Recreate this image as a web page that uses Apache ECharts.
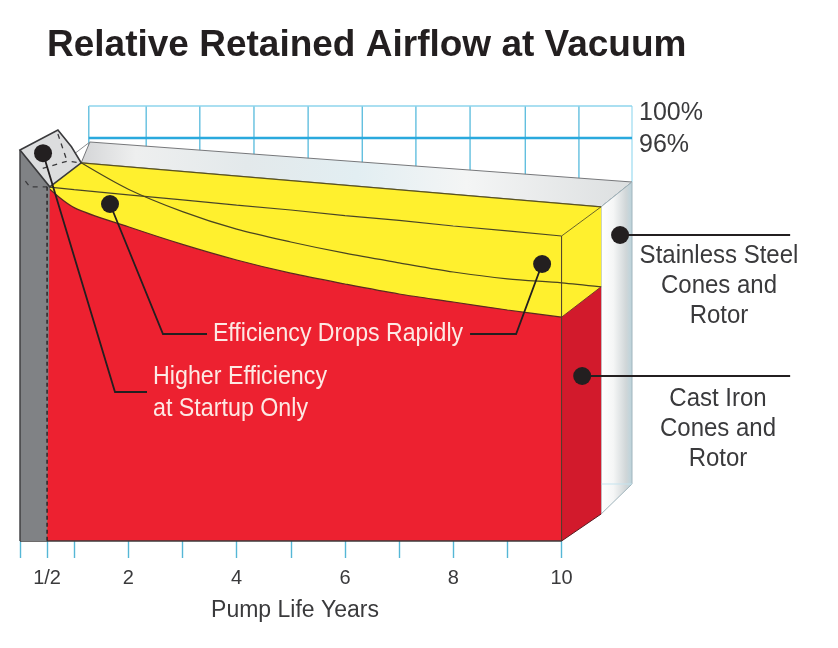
<!DOCTYPE html>
<html><head><meta charset="utf-8">
<style>html,body{margin:0;padding:0;background:#fff}#c{width:838px;height:648px}</style>
<script src="https://cdn.jsdelivr.net/npm/echarts@6/dist/echarts.min.js"></script>
</head><body><div id="c"></div>
<script>
// ---- Values: [pump life years, retained airflow %] ----
var titleText = 'Relative Retained Airflow at Vacuum';
var xAxisName = 'Pump Life Years';
var xTickValues = [0, 0.5, 1, 2, 3, 4, 5, 6, 7, 8, 9, 10];
var xLabelValues = [0.5, 2, 4, 6, 8, 10];
var yLabelValues = [96, 100];
var gridYears = [1.27, 2.33, 3.32, 4.32, 5.32, 6.32, 7.31, 8.31, 9.33, 10.32, 11.3];
var years = [0.5, 1, 2, 3, 4, 5, 6, 7, 8, 9, 10];
var castIronFront = [89.9, 87.3, 84.9, 82.7, 80.75, 79.1, 77.75, 76.5, 75.5, 74.5, 73.6];
var stainlessFront = [89.9, 89.55, 88.9, 88.26, 87.6, 87, 86.3, 85.7, 85, 84.4, 83.75];
var castIronBack = [[1.13, 92.9], [2, 89.6], [3, 86.8], [4, 84.6], [5, 83], [6, 81.6], [7, 80.4], [8, 79.25], [9, 78.4], [10, 77.9], [10.73, 77.4]];
var stainlessBack = [[1.13, 92.9], [10.73, 87.4]];
var yMin = 45.625, yMax = 100;
var roofPts = [[1.13, 92.9], [1.29, 95.5], [11.3, 90.5], [10.73, 87.4]];
var wallPts = [[10.73, 87.4], [11.3, 90.5], [11.3, 52.75], [10.73, 49]];
var yellowTopPts = [[0.5, 89.9], [1.13, 92.9], [10.73, 87.4], [10, 83.75]];
var yellowSidePts = [[10, 83.75], [10.73, 87.4], [10.73, 77.4], [10, 73.6]];
var redSidePts = [[10, 73.6], [10.73, 77.4], [10.73, 49], [10, yMin]];
var greyPts = [[0, 94.5], [0.55, 89.9], [0.5, yMin], [0, yMin]];
var boxPts = [[0, 94.5], [0.7, 97], [0.95, 94.9], [1.13, 92.9], [0.55, 89.9]];
var boxDash = [[[0.7, 96.5], [0.87, 93.1]], [[0.42, 92.2], [0.87, 93.1], [1.13, 92.9]], [[0.1, 90.6], [0.18, 89.9], [0.5, 89.9]]];
var roofLink = [[0.98, 93.9], [1.29, 95.5]];
var leaderLines = [
  [[0.425, 94.1], [1.754, 64.25], [2.345, 64.25]],
  [[1.662, 87.75], [2.64, 71.5], [3.453, 71.5]],
  [[9.64, 80.25], [9.16, 71.5], [8.31, 71.5]],
  [[11.08, 83.875], [14.22, 83.875]],
  [[10.38, 66.25], [14.22, 66.25]]
];
var dots = [[0.425, 94.1], [1.662, 87.75], [9.64, 80.25], [11.08, 83.875], [10.38, 66.25]];

// ---- Styles ----
var INK = '#231f20', TEXT = '#3a3a3c', RED = '#ed2130', YEL = '#fff02e', SANS = '"Liberation Sans",Arial,sans-serif';
function zip(xs, ys) { return xs.map(function (x, i) { return [x, ys[i]]; }); }
function poly(name, pts, style, z) {
  return { type: 'custom', name: name, coordinateSystem: 'cartesian2d', z: z, silent: true, data: pts,
    encode: { x: 0, y: 1 },
    renderItem: function (p, api) {
      if (p.dataIndex !== 0) return;
      return { type: 'polygon', shape: { points: pts.map(function (q) { return api.coord(q); }) }, style: style };
    } };
}
function polyline(name, pts, style, z) {
  return { type: 'custom', name: name, coordinateSystem: 'cartesian2d', z: z, silent: true, data: pts,
    encode: { x: 0, y: 1 },
    renderItem: function (p, api) {
      if (p.dataIndex !== 0) return;
      return { type: 'polyline', shape: { points: pts.map(function (q) { return api.coord(q); }) }, style: Object.assign({ fill: null }, style) };
    } };
}
function line(name, pts, color, width, z, extra) {
  return Object.assign({ type: 'line', name: name, data: pts, symbol: 'none', clip: false, silent: true, z: z,
    lineStyle: { color: color, width: width } }, extra || {});
}
var grad = function (stops, x2, y2) { return new echarts.graphic.LinearGradient(0, 0, x2, y2, stops); };
var series = [];
// blue scale
series.push({ type: 'custom', name: 'grid', coordinateSystem: 'cartesian2d', z: 1, silent: true, data: gridYears.map(function (y) { return [y]; }),
  encode: { x: 0 },
  renderItem: function (p, api) {
    var a = api.coord([api.value(0), yMax]), b = api.coord([api.value(0), 90.5]);
    return { type: 'line', shape: { x1: a[0], y1: a[1], x2: b[0], y2: b[1] }, style: { stroke: p.dataIndex === 10 ? '#a9e0f2' : '#62bfdf', lineWidth: 1.4 } };
  } });
series.push(line('100% line', [[1.27, 100], [11.3, 100]], '#8ed5ec', 1.6, 2));
series.push(line('96% line', [[1.27, 96], [11.3, 96]], '#2aa9dd', 2.6, 2));
// box walls
series.push(poly('Roof', roofPts, { fill: grad([{ offset: 0, color: '#d4d5d7' }, { offset: 0.1, color: '#eeefef' }, { offset: 0.3, color: '#e3e9eb' }, { offset: 0.5, color: '#e2eef2' }, { offset: 0.7, color: '#f4f5f5' }, { offset: 1, color: '#dcdfe0' }], 1, 0), stroke: '#77787b', lineWidth: 1 }, 3));
series.push(poly('Wall', wallPts, { fill: grad([{ offset: 0, color: '#ffffff' }, { offset: 0.4, color: '#f5f6f6' }, { offset: 0.8, color: '#d0d6d8' }, { offset: 1, color: '#b9d3dc' }], 1, 0), stroke: '#a0b4bc', lineWidth: 1 }, 3));
series.push(line('Wall floor', [[10.73, 52.75], [11.3, 52.75]], '#c5e3ee', 1, 4));
series.push(line('Roof link', roofLink, '#8a8c8e', 1, 4));
// stainless (yellow)
series.push(poly('Yellow top', yellowTopPts, { fill: YEL }, 5));
series.push(poly('Yellow side', yellowSidePts, { fill: YEL }, 5));
series.push(line('Stainless top edge', stainlessBack, '#5a5220', 1.2, 6));
series.push(line('Stainless Steel', zip(years, stainlessFront), '#4a4520', 1.2, 7, { areaStyle: { color: YEL, opacity: 1, origin: 'start' } }));
series.push(line('Cast Iron rear', castIronBack, '#4a4520', 1.2, 8, { smooth: 0.3 }));
// cast iron (red)
series.push(poly('Red side', redSidePts, { fill: '#d21a2c' }, 9));
series.push(line('Cast Iron', zip(years, castIronFront), '#5a2a20', 1.2, 10, { smooth: 0.3, areaStyle: { color: RED, opacity: 1, origin: 'start' } }));
series.push(line('Front corner', [[10, 83.75], [10, yMin]], '#4a3a2a', 1, 11));
series.push(line('Corner top', [[10, 83.75], [10.73, 87.4]], '#6a6420', 1, 11));
series.push(line('Side floor', [[10, yMin], [10.73, 49]], '#5a1a20', 1, 11));
series.push(line('Red side top', [[10, 73.6], [10.73, 77.4]], '#7a3a20', 1, 11));
series.push(line('Base', [[0, yMin], [10, yMin]], '#3d3a3a', 1.4, 11));
// left flap
series.push(poly('Grey', greyPts, { fill: '#808285' }, 12));
series.push(line('Grey edge', [[0, 94.5], [0, yMin]], '#3a3a3c', 1.4, 13));
series.push(poly('Box', boxPts, { fill: '#dcddde', stroke: '#3a3a3c', lineWidth: 1.6 }, 13));
boxDash.forEach(function (d, i) {
  series.push(line('Box dash ' + i, d, '#3a3a3c', 1.3, 14, { lineStyle: { color: '#3a3a3c', width: 1.3, type: [5, 5] } }));
});
series.push(line('Half year', [[0.5, 89.9], [0.5, yMin]], INK, 1.4, 14, { lineStyle: { color: INK, width: 1.4, type: [4, 3] } }));
// call-outs
leaderLines.forEach(function (l, i) { series.push(polyline('Leader ' + i, l, { stroke: INK, lineWidth: 1.8 }, 15)); });
series.push({ type: 'scatter', name: 'Dots', data: dots, symbolSize: 18, silent: true, z: 16, itemStyle: { color: INK, opacity: 1 } });

function note(text, x, y, color, align, lh, sx) {
  return { type: 'text', x: x, y: y, z: 100, scaleX: sx, style: { text: text, fill: color, font: '25px ' + SANS, align: align, verticalAlign: 'middle', lineHeight: lh } };
}
var chart = echarts.init(document.getElementById('c'), null, { renderer: 'canvas' });
chart.setOption({
  animation: false, backgroundColor: '#fff',
  title: { text: titleText, left: 47, top: 27, padding: 0, textStyle: { color: INK, fontFamily: SANS, fontWeight: 'bold', fontSize: 37 } },
  grid: { left: 20, right: 206, top: 106, bottom: 107 },
  xAxis: { type: 'value', min: 0, max: 11.3, splitLine: { show: false }, axisLine: { show: false },
    axisTick: { show: true, length: 17, customValues: xTickValues, lineStyle: { color: '#55b7d6', width: 1.4 } },
    axisLabel: { show: true, customValues: xLabelValues, margin: 27, color: TEXT, fontFamily: SANS, fontSize: 20,
      formatter: function (v) { return v === 0.5 ? '1/2' : String(v); } },
    name: xAxisName, nameLocation: 'middle', nameGap: 58,
    nameTextStyle: { color: TEXT, fontFamily: SANS, fontSize: 23, padding: [0, 62, 0, 0] } },
  yAxis: { type: 'value', position: 'right', min: yMin, max: yMax, splitLine: { show: false }, axisLine: { show: false }, axisTick: { show: false },
    axisLabel: { show: true, customValues: yLabelValues, margin: 7, color: TEXT, fontFamily: SANS, fontSize: 25, verticalAlign: 'top', lineHeight: 14,
      formatter: function (v) { return v + '%'; } } },
  series: series,
  graphic: [
    note('Efficiency Drops Rapidly', 338, 334, '#fde9e4', 'center', 30, 0.925),
    note('Higher Efficiency\nat Startup Only', 153, 393, '#fde9e4', 'left', 32, 0.93),
    note('Stainless Steel\nCones and\nRotor', 719, 286, TEXT, 'center', 30, 0.96),
    note('Cast Iron\nCones and\nRotor', 718, 429, TEXT, 'center', 30, 0.96)
  ]
});
</script></body></html>
